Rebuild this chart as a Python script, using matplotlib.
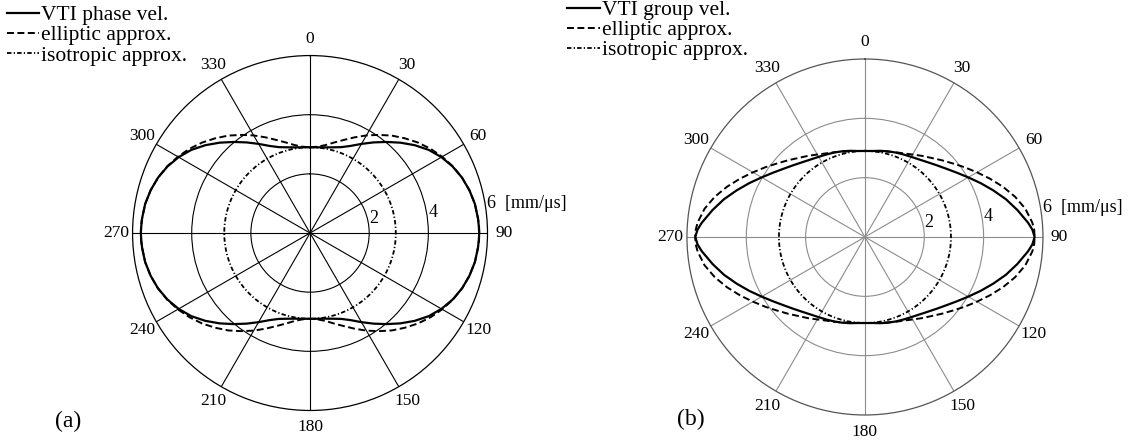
import numpy as np
import matplotlib
matplotlib.use("Agg")
import matplotlib.pyplot as plt

plt.rcParams["font.family"] = ["Liberation Serif", "DejaVu Serif"]
plt.rcParams["lines.scale_dashes"] = False

# angle from the vertical (symmetry axis), degrees; curves are mirrored to 360
angles = [0, 5, 10, 15, 20, 25, 30, 35, 40, 45, 50, 55, 60, 65, 70, 75, 80, 85, 87.5, 90]

# velocities in mm/us
phase_vti = [2.90, 2.91, 2.94, 3.00, 3.09, 3.25, 3.48, 3.74, 4.02, 4.32,
             4.62, 4.90, 5.13, 5.32, 5.47, 5.58, 5.66, 5.70, 5.71, 5.72]
phase_ell = [2.90, 2.93, 3.02, 3.17, 3.35, 3.57, 3.81, 4.05, 4.30, 4.53,
             4.76, 4.97, 5.16, 5.33, 5.47, 5.58, 5.66, 5.70, 5.72, 5.72]
group_vti = [2.90, 2.91, 2.95, 2.99, 3.03, 3.07, 3.12, 3.19, 3.29, 3.42,
             3.58, 3.78, 4.02, 4.30, 4.60, 4.92, 5.22, 5.52, 5.65, 5.72]
group_ell = [2.90, 2.91, 2.93, 2.98, 3.04, 3.11, 3.21, 3.34, 3.48, 3.66,
             3.86, 4.10, 4.36, 4.65, 4.95, 5.24, 5.49, 5.66, 5.71, 5.72]
iso_vel = 2.90

theta_ticks = list(range(0, 360, 30))
r_ticks = [2, 4]
r_labels = ["2", "4", "6  [mm/\u03bcs]"]
r_label_pos = [(76, 2.06), (80, 4.06), (80.5, 6.07)]


def mirror(vals):
    deg = np.array(angles, dtype=float)
    v = np.array(vals, dtype=float)
    th = np.concatenate([deg, 180 - deg[::-1], 180 + deg, 360 - deg[::-1]])
    r = np.concatenate([v, v[::-1], v, v[::-1]])
    return np.deg2rad(th), r


def draw_panel(ax, vti, ell, vti_label, grid_color, edge_color):
    ax.set_theta_zero_location("N")
    ax.set_theta_direction(-1)

    th, r = mirror(vti)
    ax.plot(th, r, color="k", lw=1.6, label=vti_label)
    th, r = mirror(ell)
    ax.plot(th, r, color="k", lw=1.4, ls=(0, (5, 2.5)), label="elliptic approx.")
    th = np.linspace(0, 2 * np.pi, 361)
    ax.plot(th, np.full_like(th, iso_vel), color="k", lw=1.3,
            ls=(0, (3.2, 1.6, 0.9, 1.6)), label="isotropic approx.")

    ax.set_rlim(0, 6)
    ax.set_yticks(r_ticks)
    ax.set_yticklabels([])
    ax.set_xticks(np.deg2rad(theta_ticks))
    ax.set_xticklabels([str(t) for t in theta_ticks])
    ax.tick_params(axis="x", pad=1.5, labelsize=12.5)
    ax.grid(True, color=grid_color, lw=0.8)
    ax.spines["polar"].set_color(edge_color)
    ax.spines["polar"].set_linewidth(0.9)

    for (a, rr), txt in zip(r_label_pos, r_labels):
        ax.text(np.deg2rad(a), rr, txt, fontsize=13, ha="left", va="center")

    ax.legend(loc="upper left", frameon=False, fontsize=15.5,
              handlelength=1.5, handletextpad=0.1, labelspacing=0.0,
              borderpad=0, borderaxespad=0)


fig = plt.figure(figsize=(11.28, 4.42), dpi=100)
ax1 = fig.add_axes([0.1175, 0.0713, 0.3147, 0.803], projection="polar")
ax2 = fig.add_axes([0.609, 0.0611, 0.3156, 0.8054], projection="polar")

draw_panel(ax1, phase_vti, phase_ell, "VTI phase vel.", "black", "black")
draw_panel(ax2, group_vti, group_ell, "VTI group vel.", "#8c8c8c", "#555555")

ax1.get_legend().set_bbox_to_anchor((0.006, 0.988), transform=fig.transFigure)
ax2.get_legend().set_bbox_to_anchor((0.503, 1.0), transform=fig.transFigure)

fig.text(0.060, 0.047, "(a)", fontsize=17, ha="center", va="center")
fig.text(0.612, 0.052, "(b)", fontsize=17, ha="center", va="center")

fig.savefig("out.png", dpi=100)
